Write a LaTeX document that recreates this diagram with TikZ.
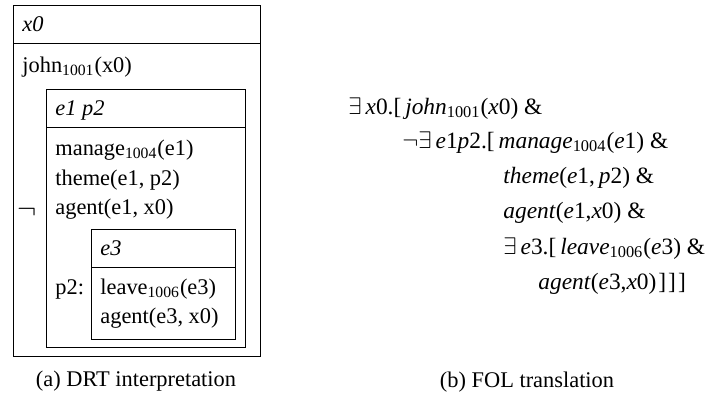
\documentclass[tikz,border=0pt]{standalone}
\usepackage{fontspec}
\setmainfont{Liberation Serif}
\usepackage{tikz}

\begin{document}
\begin{tikzpicture}[every node/.style={font=\fontsize{11.2}{13}\selectfont, inner sep=0pt, anchor=base west}, fol/.style={font=\fontsize{11.7}{14}\selectfont}, x=0.5pt, y=-0.5pt]
	\useasboundingbox (0,0) rectangle (707,397);
	\foreach \l/\t/\r/\b/\h in {13/5/260/356/43, 46/89/245/347/127, 91/229/235/339/267} {
		\draw (\l,\t) rectangle (\r,\b);
		\draw (\l,\h) -- (\r,\h);
	}
	\node (x0) at (22,31) {\textit{x0}};
	\node (john) at (22,72) {john\textsubscript{1001}(x0)};
	\node[anchor=center, font=\fontsize{15}{15}\selectfont] (neg) at (27,212) {$\neg$};
	\node (e1p2) at (55,115) {\textit{e1 p2}};
	\node (manage) at (55,155) {manage\textsubscript{1004}(e1)};
	\node (theme) at (55,185) {theme(e1, p2)};
	\node (agent1) at (55,214) {agent(e1, x0)};
	\node (p2) at (55,294) {p2:};
	\node (e3) at (100,255) {\textit{e3}};
	\node (leave) at (100,294) {leave\textsubscript{1006}(e3)};
	\node (agent3) at (100,323) {agent(e3, x0)};
	\foreach \i/\x/\y/\t in {
		1/348/114/{$\exists$\,\textit{x}0.[\,\textit{john}\textsubscript{1001}(\textit{x}0) \&},
		2/402/148/{$\neg\exists$\,\textit{e}1\textit{p}2.[\,\textit{manage}\textsubscript{1004}(\textit{e}1) \&},
		3/503/183/{\textit{theme}(\textit{e}1,\,\textit{p}2) \&},
		4/503/218/{\textit{agent}(\textit{e}1,\textit{x}0) \&},
		5/503/254/{$\exists$\,\textit{e}3.[\,\textit{leave}\textsubscript{1006}(\textit{e}3) \&},
		6/538/289/{\textit{agent}(\textit{e}3,\textit{x}0)\kern1pt]\kern1pt]\kern1pt]}} {
		\node[fol] (fol\i) at (\x,\y) {\t};
	}
	\node[anchor=base] (capa) at (136,386) {(a) DRT interpretation};
	\node[anchor=base] (capb) at (527,387) {(b) FOL translation};
\end{tikzpicture}
\end{document}
